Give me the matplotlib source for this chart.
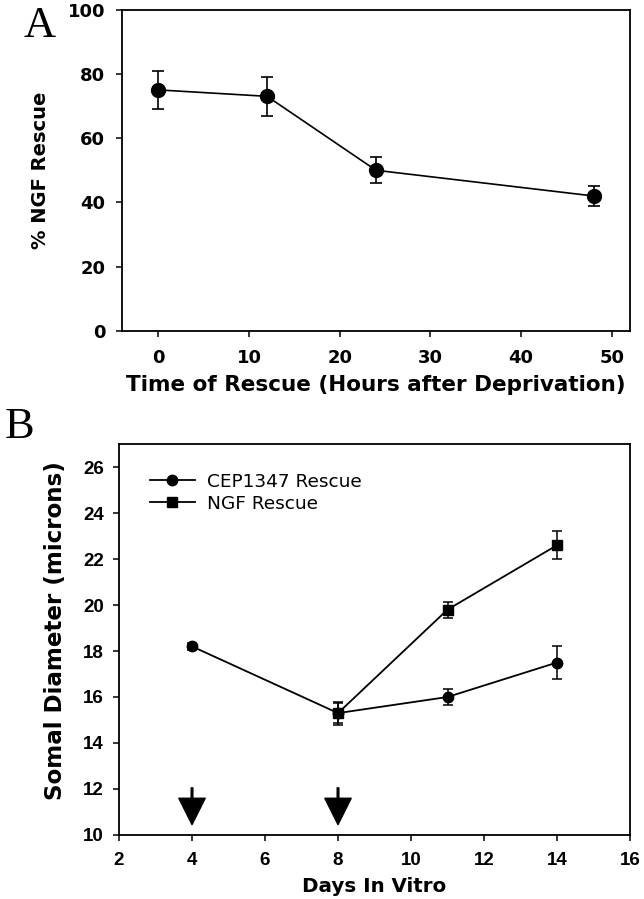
"""Two-panel figure: NGF rescue timeline (A) and somal diameter in vitro (B)."""

import matplotlib

matplotlib.use("Agg")
import matplotlib.pyplot as plt  # noqa: E402

# panel A
rescue_hours = [0, 12, 24, 48]
ngf_rescue_pct = [75, 73, 50, 42]
ngf_rescue_err = [6, 6, 4, 3]

# panel B
cep_days = [4, 8, 11, 14]
cep_diam = [18.2, 15.3, 16.0, 17.5]
cep_err = [0.15, 0.5, 0.35, 0.72]
ngf_days = [8, 11, 14]
ngf_diam = [15.3, 19.8, 22.6]
ngf_err = [0.45, 0.35, 0.6]
arrow_days = [4, 8]

WIDE = "DejaVu Sans"
NARROW = "Liberation Sans"
SERIF = "Liberation Serif"

plt.rcParams["font.family"] = WIDE
plt.rcParams["axes.linewidth"] = 1.3
plt.rcParams["xtick.major.width"] = 1.1
plt.rcParams["ytick.major.width"] = 1.1
plt.rcParams["xtick.major.size"] = 4
plt.rcParams["ytick.major.size"] = 4

fig = plt.figure(figsize=(6.44, 8.99), dpi=100)

# ---- panel A ----
axA = fig.add_axes([0.1894, 0.6318, 0.7888, 0.3576])
axA.errorbar(rescue_hours, ngf_rescue_pct, yerr=ngf_rescue_err, color="black",
             marker="o", markersize=10, linewidth=1.2, elinewidth=1.2,
             capsize=4.5, capthick=1.2)
axA.set_xlim(-4, 52)
axA.set_ylim(0, 100)
axA.set_xticks(range(0, 51, 10))
axA.set_yticks(range(0, 101, 20))
axA.tick_params(axis="x", labelsize=13, pad=9)
axA.tick_params(axis="y", labelsize=13, pad=8)
for lbl in axA.get_xticklabels() + axA.get_yticklabels():
    lbl.set_fontweight("bold")
axA.set_xlabel("Time of Rescue (Hours after Deprivation)", fontsize=15.5,
               fontweight="bold", labelpad=6)
axA.set_ylabel("% NGF Rescue", fontsize=14, fontweight="bold")
axA.yaxis.set_label_coords(-0.142, 0.5)
fig.text(0.036, 0.971, "A", family=SERIF, fontsize=32, va="center", ha="left")

# ---- panel B ----
axB = fig.add_axes([0.1848, 0.0712, 0.7935, 0.4349])
line_kw = dict(color="black", linewidth=1.3, markersize=7.5)
err_kw = dict(fmt="none", ecolor="black", elinewidth=1.1, capsize=3.5,
              capthick=1.1)
axB.errorbar(cep_days, cep_diam, yerr=cep_err, **err_kw)
axB.errorbar(ngf_days, ngf_diam, yerr=ngf_err, **err_kw)
axB.plot(cep_days, cep_diam, marker="o", label="CEP1347 Rescue", **line_kw)
axB.plot(ngf_days, ngf_diam, marker="s", label="NGF Rescue", **line_kw)
for d in arrow_days:
    axB.annotate("", xy=(d, 10.45), xytext=(d, 12.05),
                 arrowprops=dict(width=1.2, headwidth=19, headlength=19,
                                 color="black", shrink=0))
axB.set_xlim(2, 16)
axB.set_ylim(10, 27)
axB.set_xticks(range(2, 17, 2))
axB.set_yticks(range(10, 27, 2))
axB.tick_params(axis="x", labelsize=13.5, pad=8)
axB.tick_params(axis="y", labelsize=13.5, pad=7)
for lbl in axB.get_xticklabels() + axB.get_yticklabels():
    lbl.set_fontweight("bold")
    lbl.set_family(NARROW)
axB.set_xlabel("Days In Vitro", fontsize=14.3, fontweight="bold", labelpad=6)
axB.set_ylabel("Somal Diameter (microns)", fontsize=16.6, fontweight="bold")
axB.yaxis.set_label_coords(-0.102, 0.524)
axB.legend(loc="upper left", bbox_to_anchor=(0.061, 0.927), frameon=False,
           fontsize=13.3, handlelength=2.4, handletextpad=0.7,
           labelspacing=0.22, borderaxespad=0, borderpad=0)
fig.text(0.008, 0.525, "B", family=SERIF, fontsize=32, va="center", ha="left")

fig.savefig("out.png", dpi=100)
plt.close(fig)
